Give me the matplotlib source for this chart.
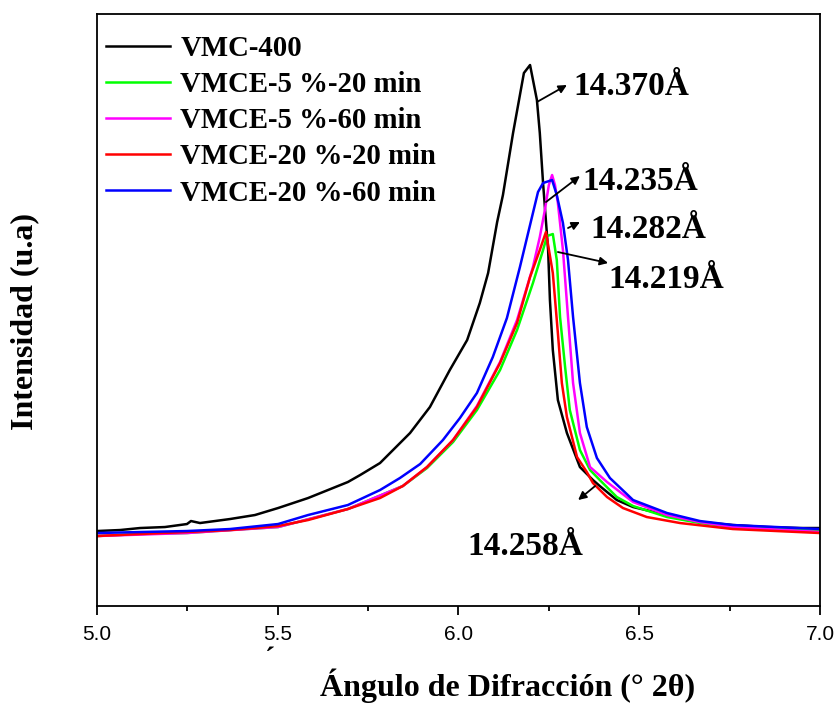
#!/usr/bin/env python3
import matplotlib
matplotlib.use('Agg')
import matplotlib.pyplot as plt

# 2-theta (deg) and intensity (a.u.)
vmc400_x = [5.000, 5.064, 5.119, 5.188, 5.249, 5.260, 5.285, 5.368, 5.437, 5.501,
            5.584, 5.639, 5.694, 5.728, 5.783, 5.866, 5.921, 5.976, 6.024, 6.059,
            6.082, 6.107, 6.123, 6.151, 6.181, 6.198, 6.217, 6.225, 6.234, 6.248,
            6.253, 6.261, 6.275, 6.300, 6.336, 6.372, 6.391, 6.438, 6.483, 6.530,
            6.577, 6.668, 6.759, 6.853, 6.945, 7.000]
vmc400_y = [75, 76, 78, 79, 82, 85, 83, 87, 91, 98,
            108, 116, 124, 131, 143, 173, 199, 236, 266, 303,
            333, 384, 411, 473, 533, 541, 506, 473, 423, 356,
            306, 256, 206, 173, 139, 126, 120, 106, 99, 95,
            91, 84, 81, 79, 78, 78]

v5_20_x = [5.000, 5.119, 5.249, 5.368, 5.501, 5.694, 5.846, 5.913, 5.985, 6.051,
           6.115, 6.162, 6.206, 6.234, 6.245, 6.261, 6.272, 6.281, 6.295, 6.308,
           6.336, 6.364, 6.391, 6.438, 6.483, 6.577, 6.668, 6.759, 7.000]
v5_20_y = [70, 72, 73, 76, 79, 97, 120, 138, 164, 196,
           236, 276, 323, 356, 370, 372, 346, 289, 239, 196,
           156, 136, 126, 109, 100, 89, 83, 79, 75]

v5_60_x = [5.000, 5.249, 5.501, 5.694, 5.846, 5.913, 5.985, 6.051, 6.115, 6.162,
           6.206, 6.225, 6.239, 6.250, 6.259, 6.267, 6.275, 6.289, 6.303, 6.317,
           6.336, 6.364, 6.411, 6.483, 6.577, 6.668, 6.759, 7.000]
v5_60_y = [70, 73, 79, 97, 120, 139, 166, 200, 244, 286,
           339, 369, 396, 421, 431, 421, 403, 356, 289, 223,
           173, 139, 124, 104, 91, 84, 79, 74]

v20_20_x = [5.000, 5.119, 5.249, 5.368, 5.437, 5.501, 5.584, 5.694, 5.783, 5.846,
            5.913, 5.985, 6.051, 6.115, 6.162, 6.198, 6.225, 6.242, 6.261, 6.275,
            6.286, 6.300, 6.328, 6.355, 6.372, 6.411, 6.455, 6.521, 6.613, 6.759,
            7.000]
v20_20_y = [70, 72, 74, 76, 78, 80, 86, 97, 108, 120,
            139, 166, 199, 243, 283, 329, 356, 374, 333, 273,
            223, 189, 149, 134, 123, 109, 98, 89, 83, 77,
            73]

v20_60_x = [5.000, 5.119, 5.249, 5.368, 5.501, 5.584, 5.694, 5.783, 5.838, 5.894,
            5.957, 6.004, 6.051, 6.095, 6.134, 6.170, 6.198, 6.220, 6.234, 6.259,
            6.272, 6.289, 6.303, 6.317, 6.336, 6.355, 6.383, 6.419, 6.483, 6.577,
            6.668, 6.759, 7.000]
v20_60_y = [73, 74, 75, 77, 82, 91, 101, 116, 128, 142,
            166, 188, 213, 249, 288, 339, 381, 414, 423, 426,
            411, 383, 346, 289, 223, 179, 148, 128, 106, 93,
            85, 81, 77]

labels = ['VMC-400', 'VMCE-5 %-20 min', 'VMCE-5 %-60 min',
          'VMCE-20 %-20 min', 'VMCE-20 %-60 min']
colors = ['black', '#00ff00', '#ff00ff', '#ff0000', '#0000ff']

SERIF = 'Liberation Serif'
SANS = 'Liberation Sans'


def main():
    fig = plt.figure(figsize=(8.39, 7.15), dpi=100)
    ax = fig.add_axes([0.1156, 0.1524, 0.8617, 0.828])

    series = [(vmc400_x, vmc400_y), (v5_20_x, v5_20_y), (v5_60_x, v5_60_y),
              (v20_20_x, v20_20_y), (v20_60_x, v20_60_y)]
    for (xs, ys), lab, col in zip(series, labels, colors):
        ax.plot(xs, ys, color=col, lw=1.8, label=lab)

    ax.set_xlim(5.0, 7.0)
    ax.set_ylim(0, 592)
    ax.set_xticks([5.0, 5.5, 6.0, 6.5, 7.0])
    ax.set_xticks([5.25, 5.75, 6.25, 6.75], minor=True)
    ax.set_yticks([])
    ax.tick_params(axis='x', which='major', length=6.5, width=1.3, pad=7,
                   labelsize=15)
    ax.tick_params(axis='x', which='minor', length=3.5, width=1.3)
    for lab in ax.get_xticklabels():
        lab.set_fontfamily(SANS)
    for sp in ax.spines.values():
        sp.set_linewidth(1.3)

    ax.set_xlabel('Ángulo de Difracción (° 2θ)', fontsize=23,
                  fontweight='bold', family=SERIF)
    ax.xaxis.set_label_coords(0.568, -0.105)
    ax.set_ylabel('Intensidad (u.a)', fontsize=23, fontweight='bold',
                  family=SERIF)
    ax.yaxis.set_label_coords(-0.08, 0.48)
    # detached accent left over in the original label
    fig.text(270 / 839, 1 - 668 / 715, '\u00b4', fontsize=22,
             fontweight='bold', family=SERIF, ha='center', va='baseline')

    ax.legend(loc='upper left', bbox_to_anchor=(0.012, 0.965), frameon=False,
              prop={'family': SERIF, 'weight': 'bold', 'size': 20.7},
              handlelength=2.25, handletextpad=0.35, labelspacing=0.32,
              borderaxespad=0, borderpad=0)

    # peak annotations: (text, arrow tail, arrow head, text anchor)
    notes = [
        ('14.370Å', (6.217, 504), (6.300, 521), (6.317, 511)),
        ('14.235Å', (6.242, 404), (6.336, 430), (6.344, 416)),
        ('14.282Å', (6.303, 378), (6.336, 384), (6.364, 368)),
        ('14.219Å', (6.275, 354), (6.414, 343), (6.414, 318)),
        ('14.258Å', (6.378, 120), (6.331, 106), (6.024, 51)),
    ]
    for txt, tail, head, pos in notes:
        ax.annotate('', xy=head, xytext=tail,
                    arrowprops=dict(arrowstyle='-|>', color='black', lw=1.3,
                                    mutation_scale=12, shrinkA=0, shrinkB=0))
        ax.text(pos[0], pos[1], txt, fontsize=24, fontweight='bold',
                family=SERIF, ha='left', va='baseline')

    fig.savefig('out.png', dpi=100)
    plt.close(fig)


if __name__ == '__main__':
    main()
